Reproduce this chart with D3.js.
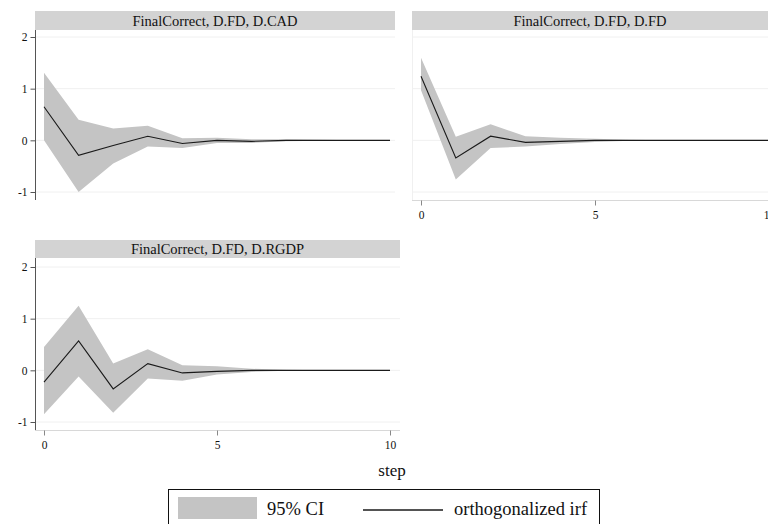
<!DOCTYPE html>
<meta charset="utf-8">
<style>
  body { margin: 0; background: #fff; }
  text { font-family: "Liberation Serif", "DejaVu Serif", serif; fill: #111; }
</style>
<body>
<svg width="768" height="524"></svg>
<script src="https://d3js.org/d3.v7.min.js"></script>
<script>

// steps 0..10
var steps = [0, 1, 2, 3, 4, 5, 6, 7, 8, 9, 10];

// FinalCorrect, D.FD, D.CAD
var cadIrf   = [0.65, -0.29, -0.10, 0.08, -0.06, 0.00, -0.02, 0.00, 0, 0, 0];
var cadLower = [0.00, -1.00, -0.45, -0.12, -0.15, -0.05, -0.05, -0.02, -0.01, 0, 0];
var cadUpper = [1.31, 0.40, 0.23, 0.28, 0.04, 0.05, 0.02, 0.02, 0.01, 0, 0];

// FinalCorrect, D.FD, D.FD
var fdIrf   = [1.24, -0.34, 0.08, -0.04, -0.02, 0.00, 0, 0, 0, 0, 0];
var fdLower = [0.97, -0.76, -0.15, -0.12, -0.07, -0.03, -0.01, 0, 0, 0, 0];
var fdUpper = [1.60, 0.07, 0.31, 0.08, 0.05, 0.03, 0.01, 0, 0, 0, 0];

// FinalCorrect, D.FD, D.RGDP
var rgdpIrf   = [-0.23, 0.57, -0.36, 0.13, -0.05, -0.02, 0.00, 0, 0, 0, 0];
var rgdpLower = [-0.85, -0.12, -0.82, -0.16, -0.20, -0.08, -0.03, -0.01, 0, 0, 0];
var rgdpUpper = [0.45, 1.25, 0.13, 0.41, 0.10, 0.08, 0.03, 0.01, 0, 0, 0];

var yTicks = [-1, 0, 1, 2];
var xTicks = [0, 5, 10];
var legendLabels = ["95% CI", "orthogonalized irf"];

var svg = d3.select("svg");

// one entry per facet: where it sits and which axes it shows
var panels = [
  { title: "FinalCorrect, D.FD, D.CAD", irf: cadIrf, lo: cadLower, hi: cadUpper,
    left: 35, right: 395, top: 11, headH: 19, bottom: 200,
    x0: 44, x1: 390, y2: 37, ym1: 192, showY: true, showX: false },
  { title: "FinalCorrect, D.FD, D.FD", irf: fdIrf, lo: fdLower, hi: fdUpper,
    left: 412, right: 768, top: 11, headH: 19, bottom: 200,
    x0: 421, x1: 769, y2: 37, ym1: 192, showY: false, showX: true },
  { title: "FinalCorrect, D.FD, D.RGDP", irf: rgdpIrf, lo: rgdpLower, hi: rgdpUpper,
    left: 35, right: 400, top: 240, headH: 18, bottom: 430,
    x0: 44, x1: 390, y2: 267, ym1: 422, showY: true, showX: true }
];

var fmt = function(d) { return String(d); };  // plain hyphen minus, like the original

panels.forEach(function(p) {
  var x = d3.scaleLinear().domain([0, 10]).range([p.x0, p.x1]);
  var y = d3.scaleLinear().domain([-1, 2]).range([p.ym1, p.y2]);
  var g = svg.append("g");

  // header strip
  g.append("rect")
    .attr("x", p.left).attr("y", p.top)
    .attr("width", p.right - p.left).attr("height", p.headH)
    .attr("fill", "#d3d3d3");
  g.append("text")
    .attr("x", (p.left + p.right) / 2).attr("y", p.top + p.headH / 2 + 5)
    .attr("text-anchor", "middle").attr("font-size", 14.5)
    .text(p.title);

  // faint gridlines
  g.selectAll(".grid").data(yTicks).enter().append("line")
    .attr("x1", p.left).attr("x2", p.right)
    .attr("y1", function(d) { return y(d); }).attr("y2", function(d) { return y(d); })
    .attr("stroke", "#f0f0f0").attr("stroke-width", 1);

  if (!p.showY) {
    g.append("line")
      .attr("x1", p.left + 0.5).attr("x2", p.left + 0.5)
      .attr("y1", p.top + p.headH).attr("y2", p.bottom)
      .attr("stroke", "#f0f0f0");
  }

  // CI band
  var area = d3.area()
    .x(function(d) { return x(d); })
    .y0(function(d, i) { return y(p.lo[i]); })
    .y1(function(d, i) { return y(p.hi[i]); });
  g.append("path").datum(steps)
    .attr("d", area).attr("fill", "#c4c4c4");

  // irf line
  var line = d3.line()
    .x(function(d) { return x(d); })
    .y(function(d, i) { return y(p.irf[i]); });
  g.append("path").datum(steps)
    .attr("d", line).attr("fill", "none")
    .attr("stroke", "#1a1a1a").attr("stroke-width", 1.1);

  if (p.showY) {
    var ay = g.append("g")
      .attr("transform", "translate(" + (p.left + 0.5) + ",0)")
      .call(d3.axisLeft(y).tickValues(yTicks).tickSize(5).tickPadding(3)
        .tickFormat(fmt));
    ay.select(".domain").attr("d", "M0," + (p.top + p.headH) + "V" + p.bottom)
      .attr("stroke", "#555");
    ay.selectAll(".tick line").attr("stroke", "#555");
    ay.selectAll("text").attr("font-size", 11.5).attr("font-family", "Liberation Serif");
  }

  if (p.showX) {
    var ax = g.append("g")
      .attr("transform", "translate(0," + (p.bottom + 0.5) + ")")
      .call(d3.axisBottom(x).tickValues(xTicks).tickSize(5).tickPadding(5)
        .tickFormat(fmt));
    ax.select(".domain").attr("d", "M" + p.left + ",0H" + p.right)
      .attr("stroke", "#d8d8d8");
    ax.selectAll(".tick line").attr("stroke", "#888");
    ax.selectAll("text").attr("font-size", 11.5).attr("font-family", "Liberation Serif");
  }
});

// x title
svg.append("text")
  .attr("x", 392).attr("y", 476)
  .attr("text-anchor", "middle").attr("font-size", 17)
  .text("step");

// legend
var lg = svg.append("g");
lg.append("rect")
  .attr("x", 168.5).attr("y", 489.5).attr("width", 431).attr("height", 50)
  .attr("fill", "#fff").attr("stroke", "#111").attr("stroke-width", 1);
lg.append("rect")
  .attr("x", 178).attr("y", 497).attr("width", 79).attr("height", 22)
  .attr("fill", "#c4c4c4");
lg.append("text")
  .attr("x", 267).attr("y", 515).attr("font-size", 18.5)
  .text(legendLabels[0]);
lg.append("line")
  .attr("x1", 363).attr("x2", 443).attr("y1", 510).attr("y2", 510)
  .attr("stroke", "#1a1a1a").attr("stroke-width", 1.3);
lg.append("text")
  .attr("x", 454).attr("y", 515).attr("font-size", 18.5)
  .text(legendLabels[1]);

</script>
</body>
